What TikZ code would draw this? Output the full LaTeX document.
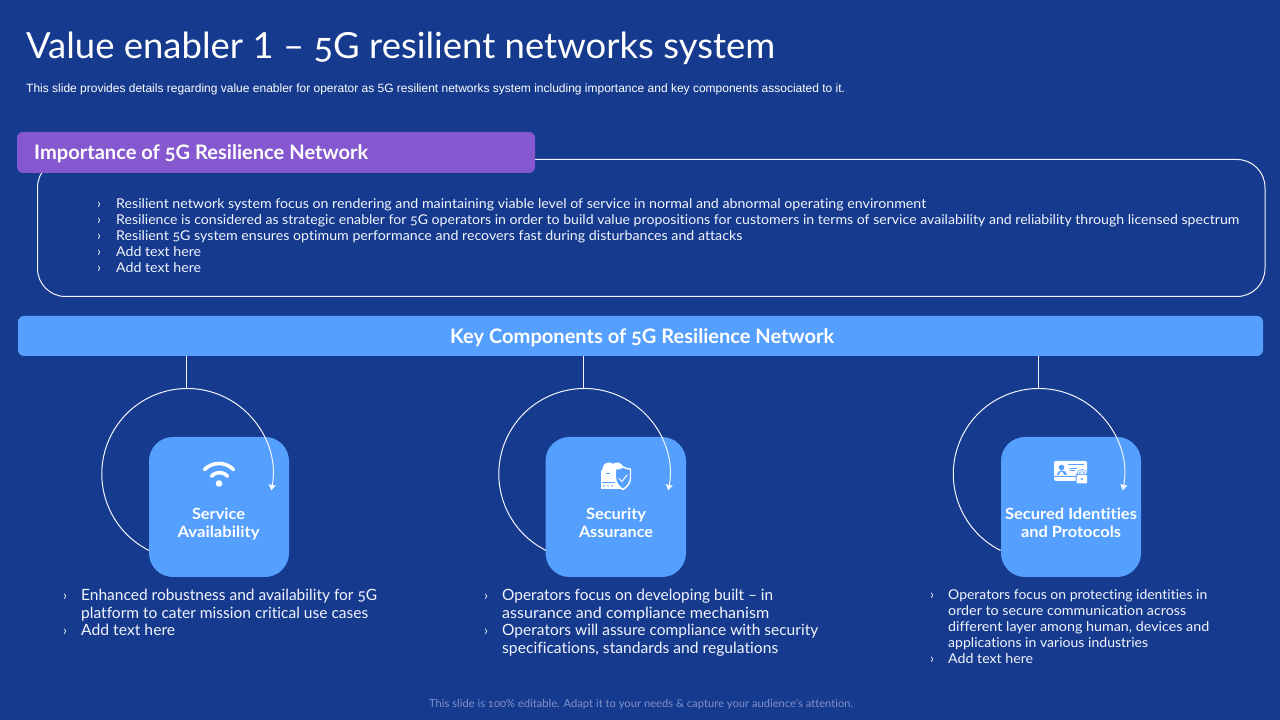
\documentclass[tikz,border=0pt]{standalone}
\usepackage{fontspec}
\usepackage{graphicx}
\setmainfont[Numbers=OldStyle,Ligatures=NoCommon]{Lato}
\newfontfamily\arialf{Liberation Sans}
\usetikzlibrary{arrows.meta}
\definecolor{bgblue}{HTML}{163A8E}
\definecolor{barblue}{HTML}{559FFF}
\definecolor{purplebar}{HTML}{8558CF}
\definecolor{footgrey}{HTML}{7F92CC}
\definecolor{softwhite}{HTML}{F2F5FD}
\newcommand\fw[2]{\resizebox{#1pt}{\height}{#2}}
\tikzset{
  x=1pt,y=1pt,
  txt/.style={anchor=base west,inner sep=0pt,text=softwhite,yshift=-1pt},
  tc/.style={anchor=base,inner sep=0pt,text=white,yshift=-1pt,font=\fontsize{15.5}{18}\selectfont\bfseries},
  body/.style={txt,font=\fontsize{13.5}{16}\selectfont},
  listb/.style={txt,font=\fontsize{15.5}{18}\selectfont},
  lists/.style={txt,font=\fontsize{13.5}{16}\selectfont},
  bulletmark/.style={txt,font=\fontsize{14}{16}\selectfont},
  card/.style={fill=barblue,rounded corners=24pt},
  wire/.style={draw=softwhite,line width=1pt},
  loopline/.style={draw=softwhite,line width=1pt,-{Triangle[length=5.5pt,width=7pt]}},
}
\begin{document}
\begin{tikzpicture}
\useasboundingbox (0,0) rectangle (1280,720);
\fill[bgblue] (0,0) rectangle (1280,720);
% headings
\node[txt,font=\fontsize{36}{40}\selectfont,text=white] (title) at (26,720-58) {\fw{749}{Value enabler {\addfontfeature{Numbers=Lining}1} – 5G resilient networks system}};
\node[txt,font=\fontsize{12}{14}\selectfont\arialf,text=white] (sub) at (26,720-92) {\fw{819}{This slide provides details regarding value enabler for operator as 5G resilient networks system including importance and key components associated to it.}};
% importance panel
\draw[wire,rounded corners=28pt] (37.5,720-159.5) rectangle (1265,720-296.5);
\fill[purplebar,rounded corners=6pt] (17,720-132) rectangle (535,720-173);
\node[txt,font=\fontsize{20}{24}\selectfont\bfseries,text=white] (imp) at (34,720-159) {\fw{334}{Importance of 5G Resilience Network}};
\foreach \yy/\ww/\ltext [count=\i] in {
 208/810/{Resilient network system focus on rendering and maintaining viable level of service in normal and abnormal operating environment},
 224/1123/{Resilience is considered as strategic enabler for 5G operators in order to build value propositions for customers in terms of service availability and reliability through licensed spectrum},
 240/626/{Resilient 5G system ensures optimum performance and recovers fast during disturbances and attacks},
 256/85/{Add text here},
 272/85/{Add text here}}{
  \node[bulletmark] (bm\i) at (97,720-\yy) {›};
  \node[body] (bl\i) at (116,720-\yy) {\fw{\ww}{\ltext}};
}
% key components bar
\fill[barblue,rounded corners=6pt] (18,720-316) rectangle (1263,720-356);
\node[txt,font=\fontsize{20}{24}\selectfont\bfseries,text=white] (key) at (450,720-343) {\fw{384}{Key Components of 5G Resilience Network}};
\coordinate (barbottom) at (640,720-356);
% cards
\fill[card] (149,720-437) rectangle (289,720-577);
\fill[card] (545.5,720-437) rectangle (686,720-577);
\fill[card] (1001,720-437) rectangle (1141,720-577);
\node[tc] (c1a) at (218.5,720-519) {\fw{53}{Service}};
\node[tc] (c1b) at (218.5,720-537) {\fw{82}{Availability}};
\node[tc] (c2a) at (616,720-519) {\fw{60}{Security}};
\node[tc] (c2b) at (616,720-537) {\fw{74}{Assurance}};
\node[tc] (c3a) at (1071,720-519) {\fw{132}{Secured Identities}};
\node[tc] (c3b) at (1071,720-537) {\fw{100}{and Protocols}};
% loops: vertical stem and circular arrow
\foreach \cx [count=\i] in {186.5,583.5,1038}{
  \coordinate (looptop\i) at (\cx,720-388);
  \draw[wire] (barbottom -| looptop\i) -- (looptop\i);
  \draw[loopline] ({\cx+0.8+85.5*cos(243.4)},{720-474+85.5*sin(243.4)}) arc[start angle=243.4,end angle=-11,radius=85.5];
}
% wifi icon
\begin{scope}[shift={(219,720-483.5)}]
  \fill[white] (0,0) circle (3.3);
  \draw[white,line width=3.6pt,line cap=round] (-7.5,7.3) arc[start angle=138,end angle=42,radius=10.8];
  \draw[white,line width=3.6pt,line cap=round] (-14.5,14) arc[start angle=135,end angle=45,radius=20.5];
\end{scope}
% shield / cloud icon
\begin{scope}[shift={(615,720-475)}]
  \fill[white] (-14,-14) rectangle (6,3);
  \fill[white] (-6,6) circle (6.5) (2,6) circle (6.5) (-10,3) circle (4);
  \fill[barblue] (-13,-7) rectangle (0,-7.7);
  \fill[barblue] (-9,1) rectangle (-5,1.8);
  \foreach \dx in {-11,-7,-3}{\fill[barblue] (\dx,-11) circle (0.8);}
  \filldraw[fill=barblue,draw=white,line width=1.4pt,line join=round] (8,8) .. controls (10.5,6.5) and (13,6) .. (15.5,6) -- (15.5,-3) .. controls (15.5,-8) and (12,-12) .. (8,-14.5) .. controls (4,-12) and (0.5,-8) .. (0.5,-3) -- (0.5,6) .. controls (3,6) and (5.5,6.5) .. (8,8) -- cycle;
  \draw[white,line width=1pt,line cap=round,line join=round] (4,-3.5) -- (7,-6.5) -- (12,0);
\end{scope}
% id card icon
\begin{scope}[shift={(1070.5,720-471)}]
  \fill[white,rounded corners=1.5pt] (-16.5,-10) rectangle (16.5,10);
  \fill[barblue] (-16.5,-5.5) rectangle (16.5,-6.3);
  \fill[barblue] (-9,3.5) circle (2.8);
  \fill[barblue] (-14,-4.5) .. controls (-14,2) and (-4,2) .. (-4,-4.5) -- cycle;
  \fill[white] (-11.5,-4.5) .. controls (-11.5,-0.5) and (-6.5,-0.5) .. (-6.5,-4.5) -- cycle;
  \fill[barblue] (-3,6.3) rectangle (13,7.1);
  \fill[barblue] (-1,2.5) rectangle (6,3.1);
  \fill[barblue] (-1,0) rectangle (4,0.6);
  \draw[barblue,line width=2.6pt] (7,-4) arc[start angle=180,end angle=0,radius=4.5];
  \draw[white,line width=1.2pt] (7,-4) arc[start angle=180,end angle=0,radius=4.5];
  \fill[barblue,rounded corners=1pt] (5,-13) rectangle (17.5,-3);
  \fill[white,rounded corners=1pt] (6,-12.5) rectangle (16.5,-4);
  \fill[barblue] (11.3,-8) circle (1.2);
\end{scope}
% lists
\foreach \yy/\ww/\ltext [count=\i] in {
 600/296/{Enhanced robustness and availability for 5G},
 618/287/{platform to cater mission critical use cases},
 635/94/{Add text here}}{
  \node[listb] (la\i) at (81,720-\yy) {\fw{\ww}{\ltext}};
}
\node[bulletmark] (lam1) at (63,720-600) {›};
\node[bulletmark] (lam2) at (63,720-635) {›};
\foreach \yy/\ww/\ltext [count=\i] in {
 600/271/{Operators focus on developing built – in},
 618/267/{assurance and compliance mechanism},
 635/316/{Operators will assure compliance with security},
 653/276/{specifications, standards and regulations}}{
  \node[listb] (lb\i) at (502,720-\yy) {\fw{\ww}{\ltext}};
}
\node[bulletmark] (lbm1) at (484,720-600) {›};
\node[bulletmark] (lbm2) at (484,720-635) {›};
\foreach \yy/\ww/\ltext [count=\i] in {
 599/259/{Operators focus on protecting identities in},
 615/238/{order to secure communication across},
 631/261/{different layer among human, devices and},
 647/200/{applications in various industries},
 663/85/{Add text here}}{
  \node[lists] (lc\i) at (948,720-\yy) {\fw{\ww}{\ltext}};
}
\node[bulletmark] (lcm1) at (930,720-599) {›};
\node[bulletmark] (lcm2) at (930,720-663) {›};
% footer
\node[txt,font=\fontsize{11}{13}\selectfont,text=footgrey] (foot) at (429,720-707) {\fw{424}{This slide is 100\% editable. Adapt it to your needs \& capture your audience's attention.}};
\end{tikzpicture}
\end{document}
